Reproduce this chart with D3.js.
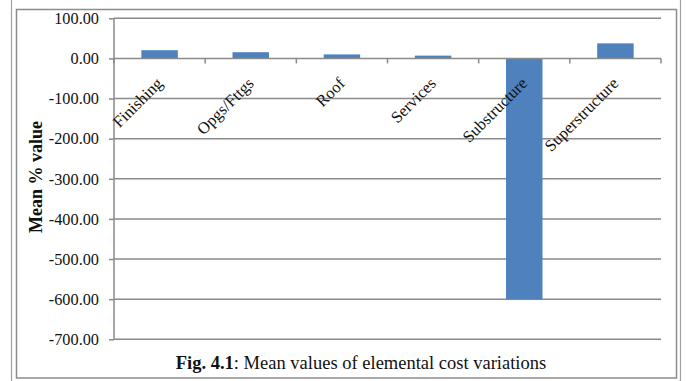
<!DOCTYPE html>
<html>
<head>
<meta charset="utf-8">
<script src="https://cdn.jsdelivr.net/npm/d3@7"></script>
<style>
  body { margin: 0; background: #fff; }
  text { font-family: "Liberation Serif", "Times New Roman", serif; }
</style>
</head>
<body>
<div id="chart"></div>
<script>
// chart data
const categories = ["Finishing", "Opgs/Fttgs", "Roof", "Services", "Substructure", "Superstructure"];
const meanValues = [20.5, 15.5, 10, 7, -600, 37.5];
const yTicks = [100, 0, -100, -200, -300, -400, -500, -600, -700];

const W = 688, H = 381;
const plot = { left: 114, right: 661, top: 18.3, bottom: 339.3 };

const svg = d3.select("#chart")
  .append("svg")
  .attr("width", W)
  .attr("height", H);

// outer frame lines
svg.append("line").attr("x1", 11.5).attr("x2", 11.5).attr("y1", 0).attr("y2", H)
  .style("stroke", "#a0a0a0").style("stroke-width", 1.2);
svg.append("line").attr("x1", 680.5).attr("x2", 680.5).attr("y1", 0).attr("y2", H)
  .style("stroke", "#a0a0a0").style("stroke-width", 1.2);
svg.append("rect")
  .attr("x", 16.5).attr("y", 9.5)
  .attr("width", 660).attr("height", 368.5)
  .style("fill", "none").style("stroke", "#8c8c8c").style("stroke-width", 1.5);

const y = d3.scaleLinear()
  .domain([-700, 100])
  .range([plot.bottom, plot.top]);

const x = d3.scaleBand()
  .domain(categories)
  .range([plot.left, plot.right])
  .paddingInner(0.6)
  .paddingOuter(0.3);

// gridlines
svg.append("g")
  .selectAll("line")
  .data(yTicks.filter(d => d !== 0))
  .enter()
  .append("line")
  .attr("x1", plot.left).attr("x2", plot.right)
  .attr("y1", d => y(d)).attr("y2", d => y(d))
  .style("stroke", "#8a8a8a").style("stroke-width", 1.5);

// y axis
const yAxis = svg.append("g")
  .attr("transform", "translate(" + plot.left + ",0)")
  .call(d3.axisLeft(y).tickValues(yTicks).tickSize(5).tickPadding(10)
    .tickFormat(d => d === 0 ? "0.00" : d3.format(".2f")(d).replace("\u2212", "-")));
yAxis.select(".domain").style("stroke", "#8a8a8a").style("stroke-width", 1.5)
  .attr("d", "M0," + y(100) + "V" + y(-700));
yAxis.selectAll(".tick line").style("stroke", "#8a8a8a").style("stroke-width", 1.5);
yAxis.selectAll(".tick text")
  .style("font-family", "'Liberation Serif', serif")
  .style("font-size", "16.3px")
  .style("fill", "#111");

// bars
svg.append("g")
  .selectAll("rect")
  .data(meanValues)
  .enter()
  .append("rect")
  .attr("x", (d, i) => x(categories[i]))
  .attr("width", x.bandwidth())
  .attr("y", d => y(Math.max(0, d)))
  .attr("height", d => Math.abs(y(d) - y(0)))
  .style("fill", "#4f81bd");

// zero axis with category tick marks
const boundaries = d3.range(categories.length + 1).map(i => plot.left + i * x.step());
svg.append("line")
  .attr("x1", plot.left).attr("x2", plot.right)
  .attr("y1", y(0)).attr("y2", y(0))
  .style("stroke", "#8a8a8a").style("stroke-width", 1.5);
svg.append("g")
  .selectAll("line")
  .data(boundaries)
  .enter()
  .append("line")
  .attr("x1", d => d).attr("x2", d => d)
  .attr("y1", y(0)).attr("y2", y(0) + 5)
  .style("stroke", "#8a8a8a").style("stroke-width", 1.5);

// category labels
svg.append("g")
  .selectAll("text")
  .data(categories)
  .enter()
  .append("text")
  .attr("transform", d => "translate(" + (x(d) + x.bandwidth() / 2 + 4) + "," + (y(0) + 26) + ") rotate(-45)")
  .style("text-anchor", "end")
  .style("font-size", "16.5px")
  .style("fill", "#111")
  .text(d => d);

// y title
svg.append("text")
  .attr("transform", "translate(42,177) rotate(-90)")
  .style("text-anchor", "middle")
  .style("font-weight", "bold")
  .style("font-size", "18px")
  .style("fill", "#111")
  .text("Mean % value");

// caption
const cap = svg.append("text")
  .attr("x", 361).attr("y", 369)
  .style("text-anchor", "middle")
  .style("font-size", "18.5px")
  .style("fill", "#111");
cap.append("tspan").style("font-weight", "bold").text("Fig. 4.1");
cap.append("tspan").text(": Mean values of elemental cost variations");
</script>
</body>
</html>
